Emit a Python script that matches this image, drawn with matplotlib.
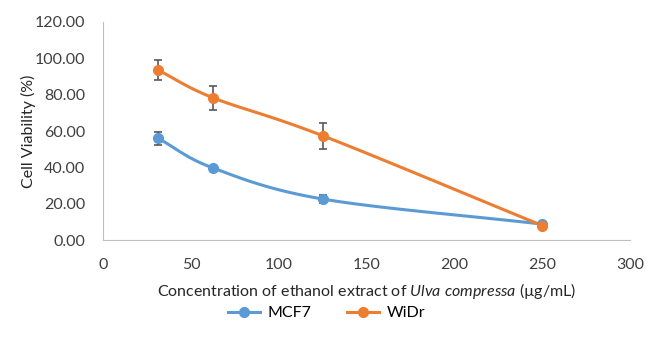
import numpy as np
import matplotlib
matplotlib.use("Agg")
import matplotlib.pyplot as plt

plt.rcParams["font.family"] = ["Lato", "DejaVu Sans"]
plt.rcParams["mathtext.fontset"] = "custom"
plt.rcParams["mathtext.it"] = "Lato:italic"
plt.rcParams["mathtext.rm"] = "Lato"

conc = [31.25, 62.5, 125, 250]
mcf7 = [56.0, 39.7, 22.6, 8.8]
mcf7_err = [3.5, 1.0, 2.0, 0.8]
widr = [93.5, 78.3, 57.4, 8.0]
widr_err = [5.5, 6.5, 7.2, 0.8]

BLUE = "#5B9BD5"
ORANGE = "#ED7D31"


def smooth(x, y, n=40):
    # Catmull-Rom style smoothing, like Excel's smoothed line
    x = np.asarray(x, float)
    y = np.asarray(y, float)
    px = np.concatenate([[2 * x[0] - x[1]], x, [2 * x[-1] - x[-2]]])
    py = np.concatenate([[2 * y[0] - y[1]], y, [2 * y[-1] - y[-2]]])
    xs, ys = [], []
    for i in range(1, len(px) - 2):
        t = np.linspace(0, 1, n)
        for arr, out in ((px, xs), (py, ys)):
            p0, p1, p2, p3 = arr[i - 1], arr[i], arr[i + 1], arr[i + 2]
            out.extend(0.5 * (2 * p1 + (-p0 + p2) * t
                              + (2 * p0 - 5 * p1 + 4 * p2 - p3) * t ** 2
                              + (-p0 + 3 * p1 - 3 * p2 + p3) * t ** 3))
    return np.array(xs), np.array(ys)


fig = plt.figure(figsize=(6.53, 3.48), dpi=100)
ax = fig.add_axes([0.158, 0.31, 0.807, 0.627])

for y, err, c, lab in ((mcf7, mcf7_err, BLUE, "MCF7"), (widr, widr_err, ORANGE, "WiDr")):
    sx, sy = smooth(conc, y)
    ax.plot(sx, sy, color=c, lw=2.2, zorder=2)
    ax.errorbar(conc, y, yerr=err, fmt="none", ecolor="#595959", elinewidth=1.2,
                capsize=3, capthick=1.2, zorder=3)
    ax.plot(conc, y, "o", color=c, ms=7, zorder=4)
    ax.plot([], [], "-o", color=c, lw=2.2, ms=7, label=lab)

ax.set_xlim(0, 300)
ax.set_ylim(0, 120)
ax.set_xticks(range(0, 301, 50))
ax.set_yticks(range(0, 121, 20))
ax.yaxis.set_major_formatter(matplotlib.ticker.FormatStrFormatter("%.2f"))
ax.tick_params(length=0, labelsize=11.5, colors="#404040")
ax.tick_params(axis="x", pad=13)
ax.tick_params(axis="y", pad=13)
for s in ("top", "right"):
    ax.spines[s].set_visible(False)
for s in ("left", "bottom"):
    ax.spines[s].set_color("#BFBFBF")

ax.set_ylabel("Cell Viability (%)", fontsize=11.5, color="#262626", labelpad=-1)
ax.set_xlabel("Concentration of ethanol extract of $\\it{Ulva\\ compressa}$ (µg/mL)",
              fontsize=11.5, color="#262626", labelpad=6)

fig.legend(loc="center", bbox_to_anchor=(0.5, 0.1), ncol=2, frameon=False,
           fontsize=11.5, handlelength=2.0, columnspacing=2.2, handletextpad=0.5)

fig.savefig("out.png", dpi=100)
